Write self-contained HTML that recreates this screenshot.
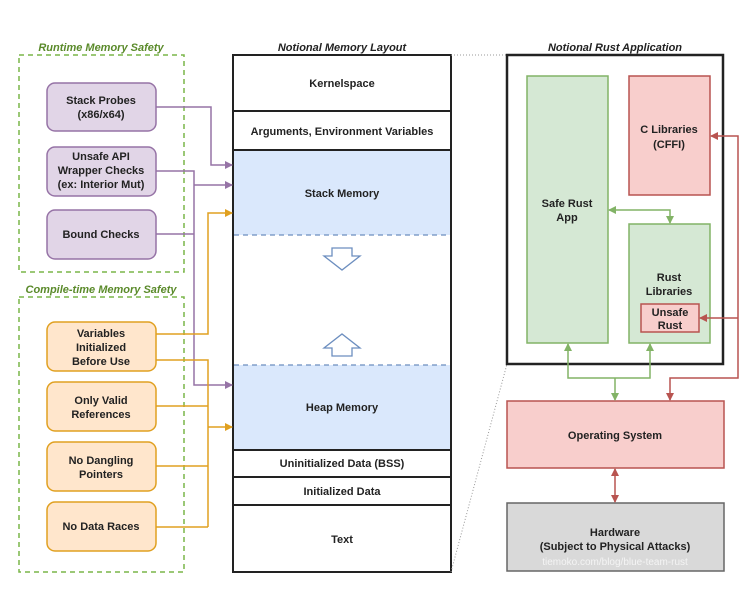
<!DOCTYPE html>
<html><head><style>
body{margin:0;background:#fff;}
svg text{font-family:"Liberation Sans",sans-serif;font-weight:bold;fill:#222;}
</style></head><body>
<svg width="750" height="591" viewBox="0 0 750 591" xmlns="http://www.w3.org/2000/svg">
<defs>
<marker id="ap" markerWidth="8" markerHeight="8" refX="7" refY="4" orient="auto" markerUnits="userSpaceOnUse"><path d="M0,0 L8,4 L0,8 z" fill="#9673a6"/></marker>
<marker id="ao" markerWidth="8" markerHeight="8" refX="7" refY="4" orient="auto" markerUnits="userSpaceOnUse"><path d="M0,0 L8,4 L0,8 z" fill="#e0a020"/></marker>
<marker id="ag" markerWidth="8" markerHeight="8" refX="7" refY="4" orient="auto-start-reverse" markerUnits="userSpaceOnUse"><path d="M0,0 L8,4 L0,8 z" fill="#82b366"/></marker>
<marker id="ar" markerWidth="8" markerHeight="8" refX="7" refY="4" orient="auto-start-reverse" markerUnits="userSpaceOnUse"><path d="M0,0 L8,4 L0,8 z" fill="#b85450"/></marker>
</defs>
<!-- Left group titles -->
<text x="101" y="51" font-size="11" font-style="italic" text-anchor="middle" style="fill:#5a8a2a">Runtime Memory Safety</text>
<rect x="19" y="55" width="165" height="217" fill="none" stroke="#7ab648" stroke-width="1.5" stroke-dasharray="5,4"/>
<text x="101" y="293" font-size="11" font-style="italic" text-anchor="middle" style="fill:#5a8a2a">Compile-time Memory Safety</text>
<rect x="19" y="297" width="165" height="275" fill="none" stroke="#7ab648" stroke-width="1.5" stroke-dasharray="5,4"/>
<!-- purple boxes -->
<g fill="#e1d5e7" stroke="#9673a6" stroke-width="1.5">
<rect x="47" y="83" width="109" height="48" rx="8"/>
<rect x="47" y="147" width="109" height="49" rx="8"/>
<rect x="47" y="210" width="109" height="49" rx="8"/>
</g>
<g font-size="11" text-anchor="middle">
<text x="101" y="104">Stack Probes</text><text x="101" y="118">(x86/x64)</text>
<text x="101" y="160">Unsafe API</text><text x="101" y="174">Wrapper Checks</text><text x="101" y="188">(ex: Interior Mut)</text>
<text x="101" y="238">Bound Checks</text>
</g>
<!-- orange boxes -->
<g fill="#ffe6cc" stroke="#e0a020" stroke-width="1.5">
<rect x="47" y="322" width="109" height="49" rx="8"/>
<rect x="47" y="382" width="109" height="49" rx="8"/>
<rect x="47" y="442" width="109" height="49" rx="8"/>
<rect x="47" y="502" width="109" height="49" rx="8"/>
</g>
<g font-size="11" text-anchor="middle">
<text x="101" y="337">Variables</text><text x="101" y="351">Initialized</text><text x="101" y="365">Before Use</text>
<text x="101" y="404">Only Valid</text><text x="101" y="418">References</text>
<text x="101" y="464">No Dangling</text><text x="101" y="478">Pointers</text>
<text x="101" y="530">No Data Races</text>
</g>
<!-- memory layout -->
<text x="342" y="51" font-size="11" font-style="italic" text-anchor="middle">Notional Memory Layout</text>
<rect x="233" y="150" width="218" height="300" fill="#dae8fc"/>
<rect x="233" y="235" width="218" height="130" fill="#fff"/>
<g stroke="#222" stroke-width="2" fill="none">
<rect x="233" y="55" width="218" height="517"/>
<line x1="233" y1="111" x2="451" y2="111"/>
<line x1="233" y1="150" x2="451" y2="150"/>
<line x1="233" y1="450" x2="451" y2="450"/>
<line x1="233" y1="477" x2="451" y2="477"/>
<line x1="233" y1="505" x2="451" y2="505"/>
</g>
<g stroke="#6c8ebf" stroke-width="1.2" stroke-dasharray="5,4">
<line x1="234" y1="235" x2="450" y2="235"/><line x1="234" y1="365" x2="450" y2="365"/>
</g>
<path d="M332,248 h20 v8 h8 l-18,14 l-18,-14 h8 z" fill="#fff" stroke="#6c8ebf" stroke-width="1.3"/>
<path d="M332,356 h20 v-8 h8 l-18,-14 l-18,14 h8 z" fill="#fff" stroke="#6c8ebf" stroke-width="1.3"/>
<g font-size="11" text-anchor="middle">
<text x="342" y="87">Kernelspace</text>
<text x="342" y="135">Arguments, Environment Variables</text>
<text x="342" y="197">Stack Memory</text>
<text x="342" y="411">Heap Memory</text>
<text x="342" y="467">Uninitialized Data (BSS)</text>
<text x="342" y="495">Initialized Data</text>
<text x="342" y="543">Text</text>
</g>
<!-- purple connectors -->
<g stroke="#9673a6" stroke-width="1.5" fill="none">
<path d="M156,107 H211 V165 H232" marker-end="url(#ap)"/>
<path d="M156,171 H194 V385 H232" marker-end="url(#ap)"/>
<path d="M194,185 H232" marker-end="url(#ap)"/>
<path d="M156,234 H194"/>
</g>
<!-- orange connectors -->
<g stroke="#e0a020" stroke-width="1.5" fill="none">
<path d="M156,334 H208 V213 H232" marker-end="url(#ao)"/>
<path d="M156,360 H208 V527"/>
<path d="M156,406 H208"/>
<path d="M208,427 H232" marker-end="url(#ao)"/>
<path d="M156,466 H208"/>
<path d="M156,527 H208"/>
</g>
<!-- dotted zoom lines -->
<g stroke="#999" stroke-width="1" stroke-dasharray="1,2">
<line x1="451" y1="55" x2="507" y2="55"/>
<line x1="451" y1="572" x2="507" y2="364"/>
</g>
<!-- right -->
<text x="615" y="51" font-size="11" font-style="italic" text-anchor="middle">Notional Rust Application</text>
<rect x="507" y="55" width="216" height="309" fill="#fff" stroke="#222" stroke-width="2.5"/>
<rect x="527" y="76" width="81" height="267" fill="#d5e8d4" stroke="#82b366" stroke-width="1.5"/>
<rect x="629" y="76" width="81" height="119" fill="#f8cecc" stroke="#b85450" stroke-width="1.5"/>
<rect x="629" y="224" width="81" height="119" fill="#d5e8d4" stroke="#82b366" stroke-width="1.5"/>
<rect x="641" y="304" width="58" height="28" fill="#f8cecc" stroke="#b85450" stroke-width="1.5"/>
<g font-size="11" text-anchor="middle">
<text x="567" y="207">Safe Rust</text><text x="567" y="221">App</text>
<text x="669" y="133">C Libraries</text><text x="669" y="148">(CFFI)</text>
<text x="669" y="281">Rust</text><text x="669" y="295">Libraries</text>
<text x="670" y="316">Unsafe</text><text x="670" y="329">Rust</text>
</g>
<rect x="507" y="401" width="217" height="67" fill="#f8cecc" stroke="#b85450" stroke-width="1.5"/>
<text x="615" y="439" font-size="11" text-anchor="middle">Operating System</text>
<rect x="507" y="503" width="217" height="68" fill="#d9d9d9" stroke="#666" stroke-width="1.5"/>
<text x="615" y="536" font-size="11" text-anchor="middle">Hardware</text>
<text x="615" y="550" font-size="11" text-anchor="middle">(Subject to Physical Attacks)</text>
<text x="615" y="565" font-size="10" text-anchor="middle" style="fill:#f4f4f4;font-weight:normal">tiemoko.com/blog/blue-team-rust</text>
<!-- green connectors -->
<g stroke="#82b366" stroke-width="1.5" fill="none">
<path d="M609,210 H670 V223" marker-start="url(#ag)" marker-end="url(#ag)"/>
<path d="M568,344 V378 H650 V344" marker-start="url(#ag)" marker-end="url(#ag)"/>
<path d="M615,378 V400" marker-end="url(#ag)"/>
</g>
<!-- red connectors -->
<g stroke="#b85450" stroke-width="1.5" fill="none">
<path d="M711,136 H738 V378 H670 V400" marker-start="url(#ar)" marker-end="url(#ar)"/>
<path d="M738,318 H700" marker-end="url(#ar)"/>
<path d="M615,469 V502" marker-start="url(#ar)" marker-end="url(#ar)"/>
</g>
</svg>
</body></html>
